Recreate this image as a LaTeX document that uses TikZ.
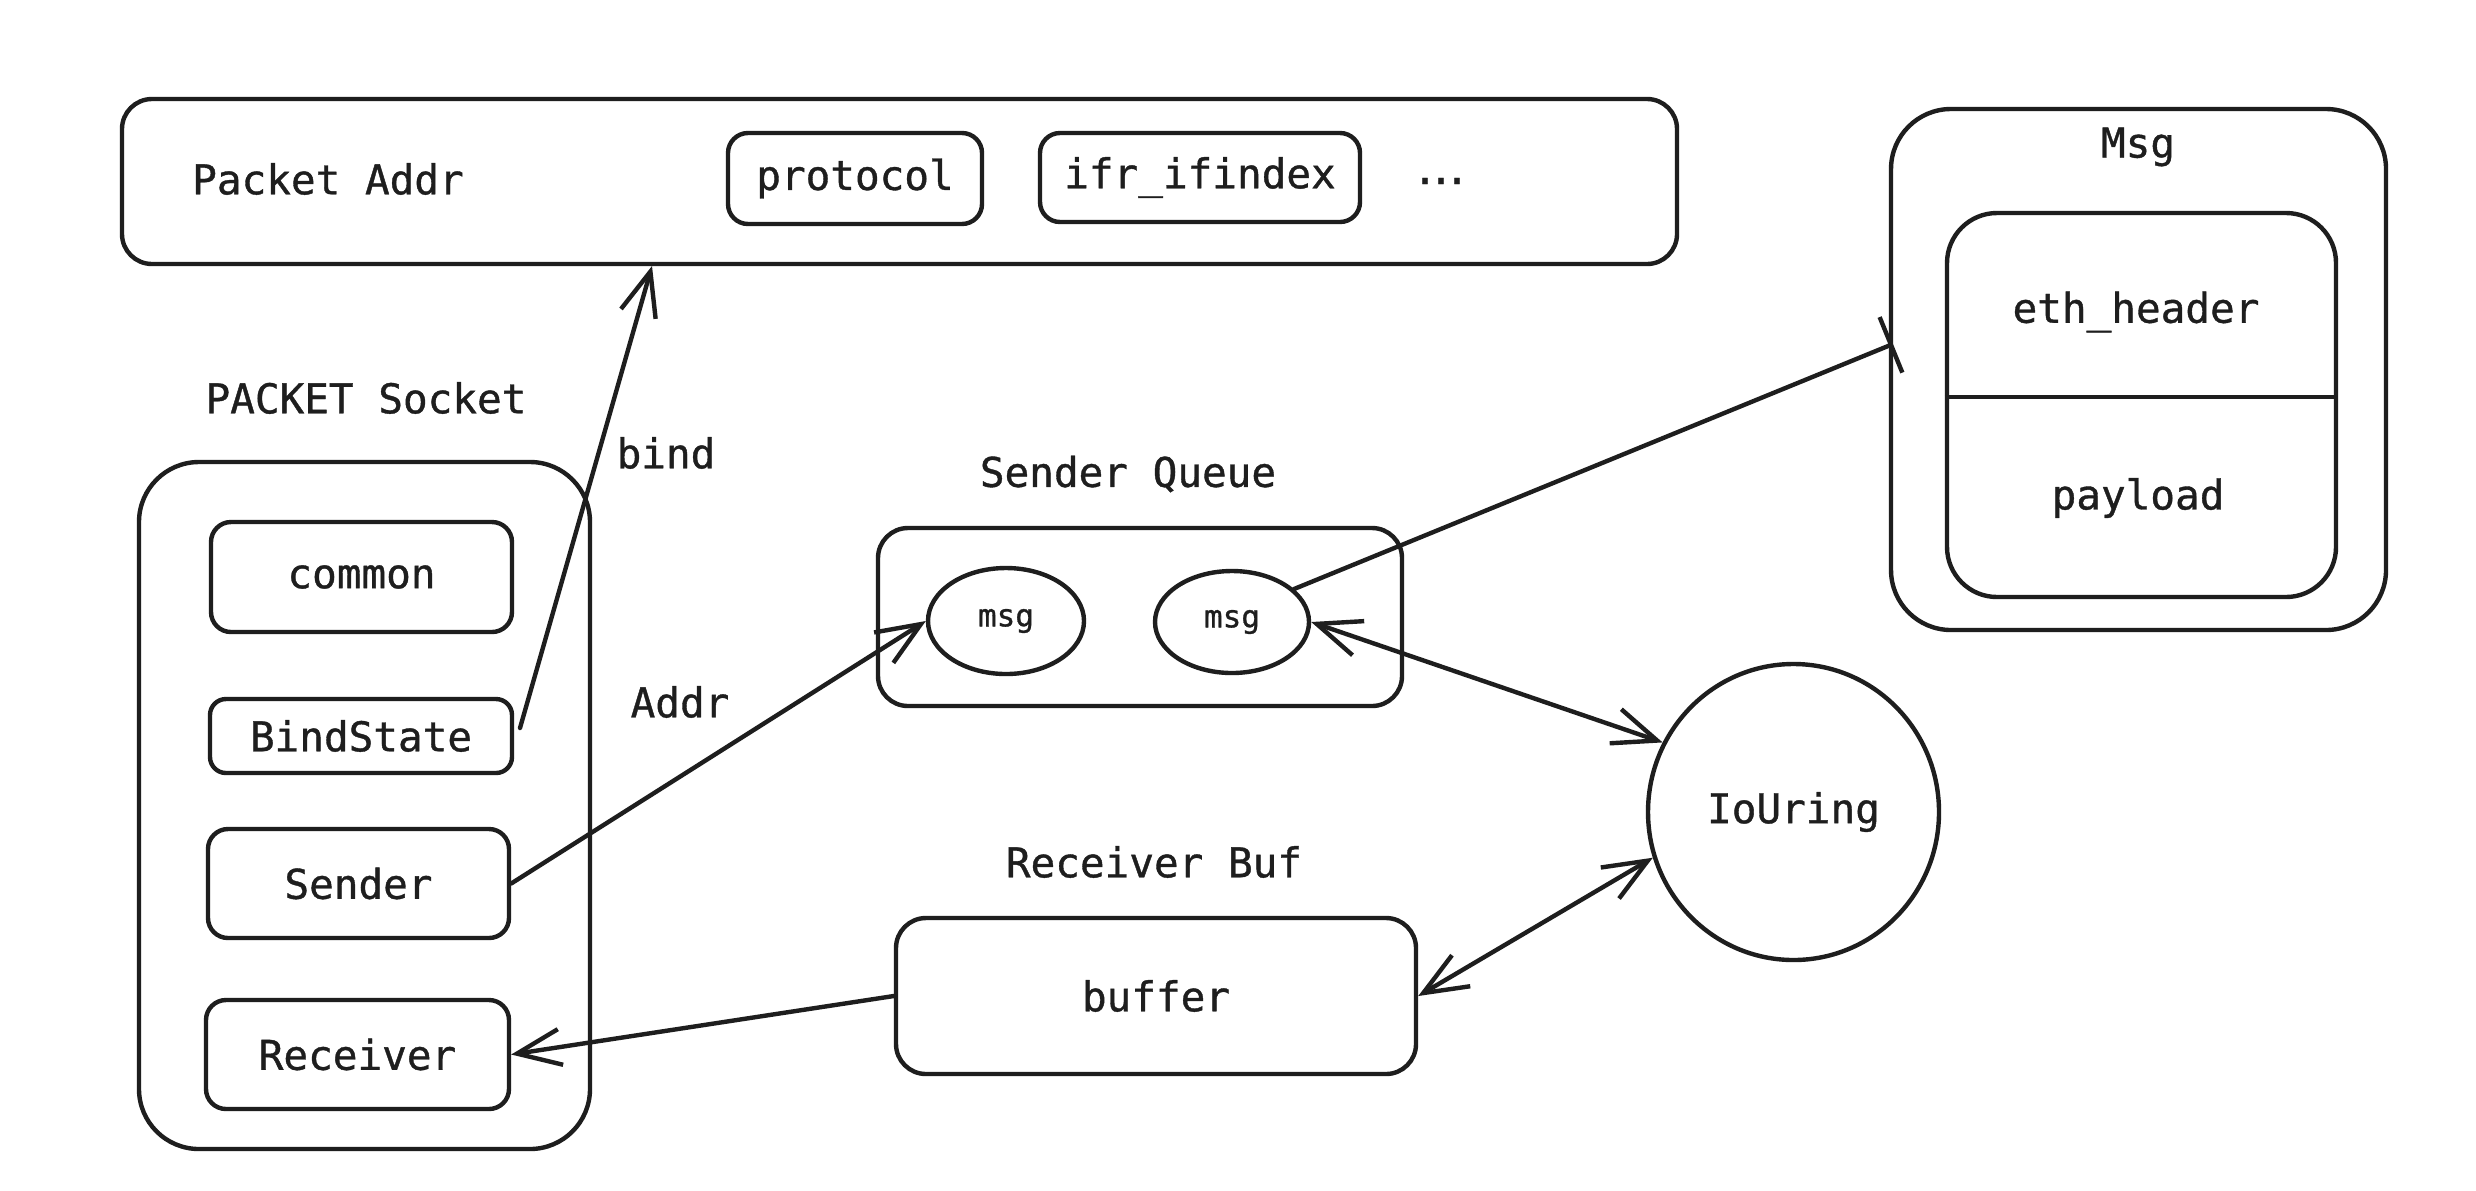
\documentclass[tikz,border=0pt]{standalone}
\usepackage{fontspec}
\newfontfamily\monofnt[FakeBold=0.9]{DejaVu Sans Mono}
\usetikzlibrary{arrows.meta,shapes.geometric}
\definecolor{ink}{HTML}{1E1E1E}
\tikzset{
  box/.style={draw=ink, line width=2.2pt, rounded corners=#1, inner sep=0pt, text=ink,
    font=\monofnt\fontsize{20.5pt}{24pt}\selectfont},
  box/.default=10pt,
  txt/.style={text=ink, inner sep=0pt, font=\monofnt\fontsize{20.5pt}{24pt}\selectfont},
  ell/.style={ellipse, draw=ink, line width=2.2pt, inner sep=0pt, text=ink},
  smalltxt/.style={font=\monofnt\fontsize{15.5pt}{18pt}\selectfont},
  conn/.style={draw=ink, line width=2.2pt, line cap=round,
    -{Straight Barb[length=22pt,width=18pt]}},
  twoway/.style={draw=ink, line width=2.2pt, line cap=round,
    {Straight Barb[length=22pt,width=18pt]}-{Straight Barb[length=22pt,width=18pt]}},
  barconn/.style={draw=ink, line width=2.2pt, line cap=round,
    -{Bar[width=30pt,line width=2.2pt]}}
}
\begin{document}
\begin{tikzpicture}[x=0.5pt,y=-0.5pt]
\useasboundingbox[fill=white] (0,0) rectangle (2476,1190);

% Packet Addr
\node[box=15pt, minimum width=777.5pt, minimum height=82.5pt] (paddr) at (899.5,181.5) {};
\node[txt] (paddrlbl) at (328,179) {Packet Addr};
\node[box=10pt, minimum width=127pt, minimum height=45.5pt] (protocol) at (855,178.5) {protocol};
\node[box=10pt, minimum width=160pt, minimum height=44.5pt] (ifindex) at (1200,177.5) {ifr\_ifindex};
\node[txt] (dots) at (1441,181) {.\kern-4.35pt.\kern-4.35pt.};

% Msg
\node[box=30pt, minimum width=247.5pt, minimum height=260.5pt] (msgbox) at (2138.5,369.5) {};
\node[txt] (msglbl) at (2138,147) {Msg};
\node[box=25pt, minimum width=194.5pt, minimum height=192pt] (inner) at (2141.5,405) {};
\draw[draw=ink, line width=2.2pt] ([yshift=4pt]inner.west) -- ([yshift=4pt]inner.east);
\node[txt] (eth) at (2136,312) {eth\_header};
\node[txt] (payload) at (2138,498) {payload};

% PACKET Socket
\node[txt] (socklbl) at (366,398) {PACKET Socket};
\node[box=30pt, minimum width=225.5pt, minimum height=343.5pt] (socket) at (364.5,805.5) {};
\node[box=10pt, minimum width=150.5pt, minimum height=55pt] (common) at (361.5,577) {common};
\node[box=8pt, minimum width=151pt, minimum height=37pt] (bindstate) at (361,736) {BindState};
\node[box=10pt, minimum width=150.5pt, minimum height=54.5pt] (sender) at (358.5,883.5) {Sender};
\node[box=10pt, minimum width=151.5pt, minimum height=54.5pt] (receiver) at (357.5,1054.5) {Receiver};

\node[txt] (bindlbl) at (666,453) {bind};
\node[txt] (addrlbl) at (680,702) {Addr};

% Sender Queue
\node[txt] (sqlbl) at (1128,474) {Sender Queue};
\node[box=15pt, minimum width=262pt, minimum height=89pt] (squeue) at (1140,617) {};
\node[ell, smalltxt, minimum width=78pt, minimum height=53pt] (msga) at (1006,621) {msg};
\node[ell, smalltxt, minimum width=77pt, minimum height=51pt] (msgb) at (1232,622) {msg};

% IoUring
\node[ell, txt, draw=ink, line width=2.2pt, minimum width=145.5pt, minimum height=148pt] (iouring) at (1793.5,812) {IoUring};

% Receiver Buf
\node[txt] (rblbl) at (1154,862) {Receiver Buf};
\node[box=15pt, minimum width=260pt, minimum height=78pt] (buffer) at (1156,996) {buffer};

% connectors
\coordinate (bindstart) at (520,728);
\coordinate (bindtip) at (652,266);
\coordinate (msgin) at (1893,344);
\draw[conn] (bindstart) -- (bindtip);
\draw[conn] (sender.east) -- (msga.west);
\draw[barconn] (msgb.28) -- (msgin);
\draw[twoway] (msgb.east) -- (iouring.152);
\draw[twoway] (buffer.east) -- (iouring.198);
\draw[conn] (buffer.west) -- (receiver.east);
\end{tikzpicture}
\end{document}
